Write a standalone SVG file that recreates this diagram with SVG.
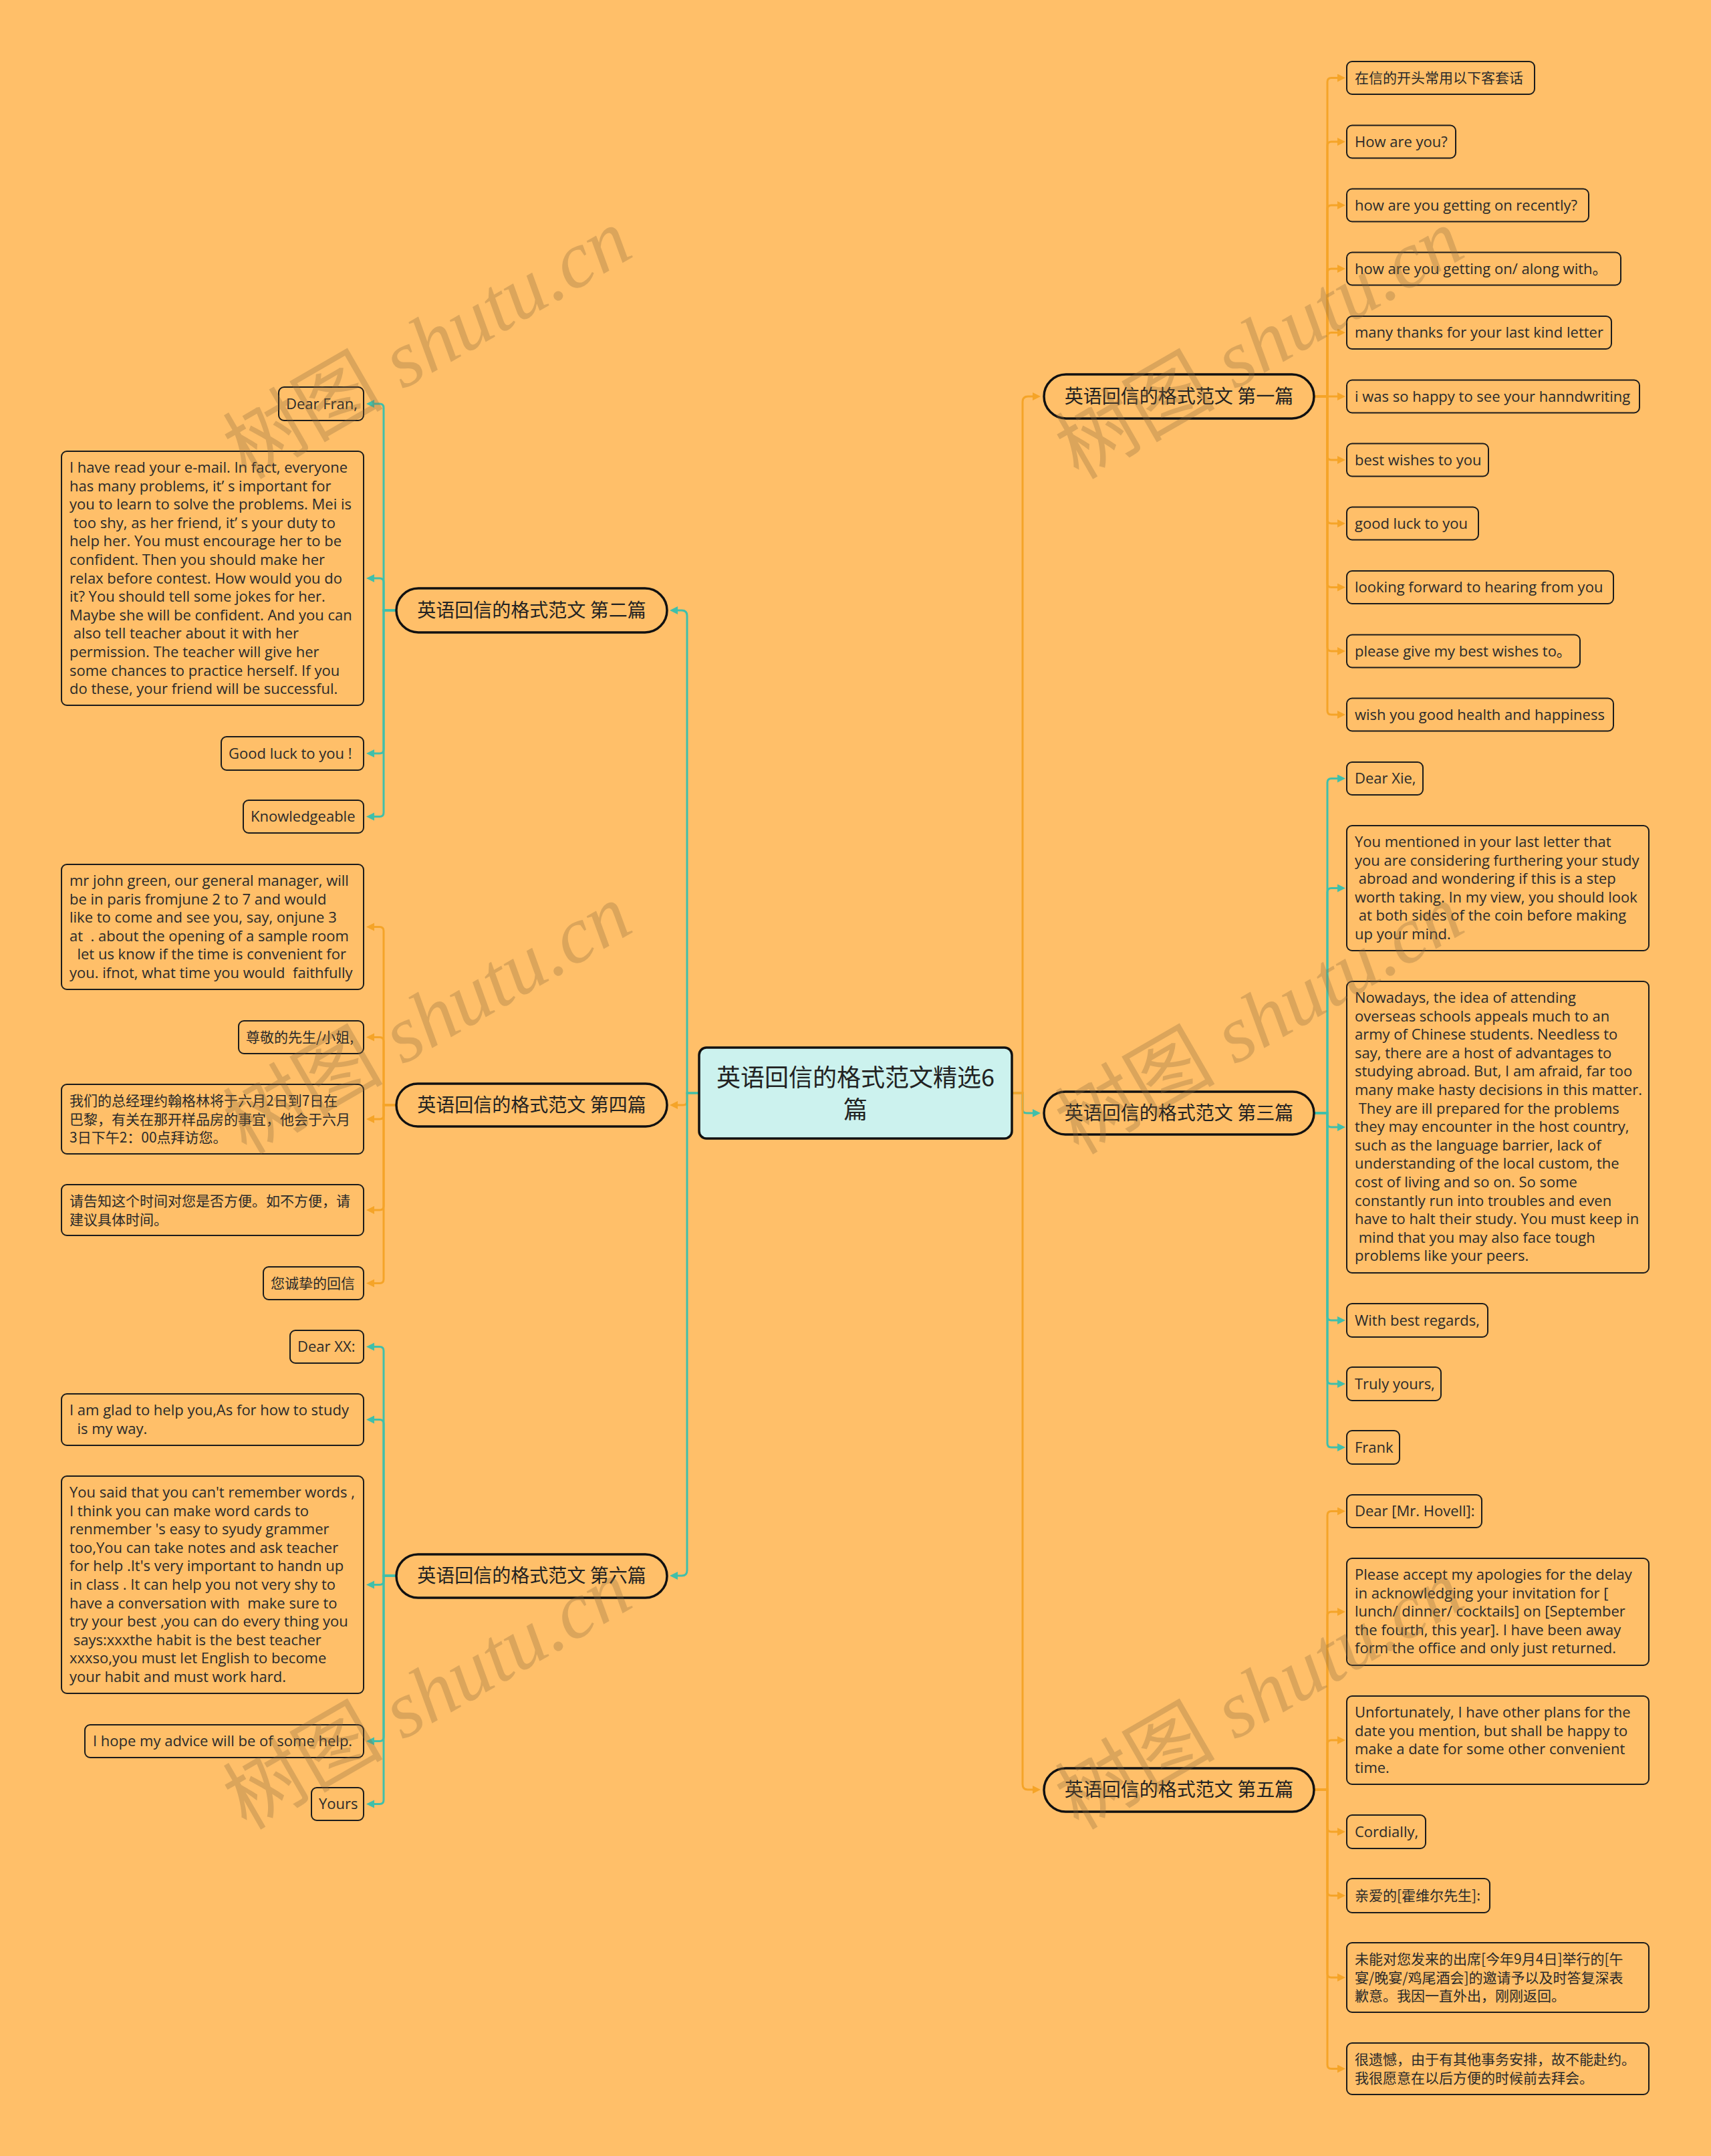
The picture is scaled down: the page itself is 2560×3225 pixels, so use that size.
<svg xmlns="http://www.w3.org/2000/svg" width="2560" height="3225" viewBox="0 0 2560 3225">
<style>
.box{fill:#FFBF69;stroke:#1c1c1c;stroke-width:2}
.pill{fill:#FFBF69;stroke:#111;stroke-width:3.5}
.root{fill:#CCF2EE;stroke:#111;stroke-width:3.5}
.en{font-family:"Open Sans","Noto Sans CJK SC",sans-serif;font-size:22px;fill:#2a2a2a}
.zh{font-family:"Noto Sans CJK SC",sans-serif;font-size:21px;fill:#2a2a2a}
.br{font-family:"Noto Sans CJK SC",sans-serif;font-size:28px;fill:#222;text-anchor:middle}
.rt{font-family:"Noto Sans CJK SC",sans-serif;font-size:36px;fill:#222;text-anchor:middle}
.co{fill:none;stroke:#F5A428;stroke-width:3;marker-end:url(#ao)}
.ct{fill:none;stroke:#40BFAA;stroke-width:3;marker-end:url(#at)}
.wm{font-size:120px;fill:#8B6A3E;opacity:0.3}
.wmz{font-family:"Noto Sans CJK SC",sans-serif}
.wme{font-family:"Liberation Serif",serif;font-style:italic}
</style>
<defs>
<marker id="ao" markerUnits="userSpaceOnUse" markerWidth="14" markerHeight="14" refX="4" refY="6" orient="auto"><path d="M0,0 L12,6 L0,12 z" fill="#F5A428"/></marker>
<marker id="at" markerUnits="userSpaceOnUse" markerWidth="14" markerHeight="14" refX="4" refY="6" orient="auto"><path d="M0,0 L12,6 L0,12 z" fill="#40BFAA"/></marker>
</defs>
<rect x="0" y="0" width="2560" height="3225" fill="#FFBF69"/>

<g id="connectors">
<path class="ct" d="M1514 1635 H1530 V1659 Q1530 1665 1536 1665 H1549"/>
<path class="co" d="M1514 1635 H1530 V601 Q1530 593 1538 593 H1549"/>
<path class="co" d="M1514 1635 H1530 V2669 Q1530 2677 1538 2677 H1549"/>
<path class="co" d="M1046 1635 H1028 V1647 Q1028 1653 1022 1653 H1010"/>
<path class="ct" d="M1046 1635 H1028 V921 Q1028 913 1020 913 H1010"/>
<path class="ct" d="M1046 1635 H1028 V2349 Q1028 2357 1020 2357 H1010"/>
<path class="co" d="M1966 593 H1986 V122.5 Q1986 116.5 1992 116.5 H2005"/>
<path class="co" d="M1966 593 H1986 V218 Q1986 212 1992 212 H2005"/>
<path class="co" d="M1966 593 H1986 V313 Q1986 307 1992 307 H2005"/>
<path class="co" d="M1966 593 H1986 V408 Q1986 402 1992 402 H2005"/>
<path class="co" d="M1966 593 H1986 V503.5 Q1986 497.5 1992 497.5 H2005"/>
<path class="co" d="M1966 593 H2005"/>
<path class="co" d="M1966 593 H1986 V682 Q1986 688 1992 688 H2005"/>
<path class="co" d="M1966 593 H1986 V777 Q1986 783 1992 783 H2005"/>
<path class="co" d="M1966 593 H1986 V872.5 Q1986 878.5 1992 878.5 H2005"/>
<path class="co" d="M1966 593 H1986 V968 Q1986 974 1992 974 H2005"/>
<path class="co" d="M1966 593 H1986 V1063 Q1986 1069 1992 1069 H2005"/>
<path class="ct" d="M1966 1665 H1986 V1170.5 Q1986 1164.5 1992 1164.5 H2005"/>
<path class="ct" d="M1966 1665 H1986 V1334.5 Q1986 1328.5 1992 1328.5 H2005"/>
<path class="ct" d="M1966 1665 H1986 V1680 Q1986 1686 1992 1686 H2005"/>
<path class="ct" d="M1966 1665 H1986 V1969 Q1986 1975 1992 1975 H2005"/>
<path class="ct" d="M1966 1665 H1986 V2064 Q1986 2070 1992 2070 H2005"/>
<path class="ct" d="M1966 1665 H1986 V2159 Q1986 2165 1992 2165 H2005"/>
<path class="co" d="M1966 2677 H1986 V2266.5 Q1986 2260.5 1992 2260.5 H2005"/>
<path class="co" d="M1966 2677 H1986 V2417 Q1986 2411 1992 2411 H2005"/>
<path class="co" d="M1966 2677 H1986 V2609 Q1986 2603 1992 2603 H2005"/>
<path class="co" d="M1966 2677 H1986 V2734 Q1986 2740 1992 2740 H2005"/>
<path class="co" d="M1966 2677 H1986 V2829.5 Q1986 2835.5 1992 2835.5 H2005"/>
<path class="co" d="M1966 2677 H1986 V2952 Q1986 2958 1992 2958 H2005"/>
<path class="co" d="M1966 2677 H1986 V3088.5 Q1986 3094.5 1992 3094.5 H2005"/>
<path class="ct" d="M593 913 H574 V610 Q574 604 568 604 H556"/>
<path class="ct" d="M593 913 H574 V871 Q574 865 568 865 H556"/>
<path class="ct" d="M593 913 H574 V1121 Q574 1127 568 1127 H556"/>
<path class="ct" d="M593 913 H574 V1215.5 Q574 1221.5 568 1221.5 H556"/>
<path class="co" d="M593 1653 H574 V1392.5 Q574 1386.5 568 1386.5 H556"/>
<path class="co" d="M593 1653 H574 V1557.5 Q574 1551.5 568 1551.5 H556"/>
<path class="co" d="M593 1653 H574 V1668 Q574 1674 568 1674 H556"/>
<path class="co" d="M593 1653 H574 V1804 Q574 1810 568 1810 H556"/>
<path class="co" d="M593 1653 H574 V1913.5 Q574 1919.5 568 1919.5 H556"/>
<path class="ct" d="M593 2357 H574 V2020.5 Q574 2014.5 568 2014.5 H556"/>
<path class="ct" d="M593 2357 H574 V2129.5 Q574 2123.5 568 2123.5 H556"/>
<path class="ct" d="M593 2357 H574 V2364.5 Q574 2370.5 568 2370.5 H556"/>
<path class="ct" d="M593 2357 H574 V2598.5 Q574 2604.5 568 2604.5 H556"/>
<path class="ct" d="M593 2357 H574 V2692.5 Q574 2698.5 568 2698.5 H556"/>
</g>

<g id="root">
<rect class="root" x="1046" y="1567" width="468" height="136" rx="11"/>
<text class="rt"><tspan x="1280" y="1625">英语回信的格式范文精选6</tspan><tspan x="1280" y="1673">篇</tspan></text>
</g>

<g id="b1">
<rect class="pill" x="1562" y="560" width="404" height="66" rx="33"/>
<text class="br" x="1764" y="603">英语回信的格式范文 第一篇</text>
</g>
<g id="b3">
<rect class="pill" x="1562" y="1633" width="404" height="64" rx="32"/>
<text class="br" x="1764" y="1675">英语回信的格式范文 第三篇</text>
</g>
<g id="b5">
<rect class="pill" x="1562" y="2645" width="404" height="65" rx="32.5"/>
<text class="br" x="1764" y="2687">英语回信的格式范文 第五篇</text>
</g>
<g id="b2">
<rect class="pill" x="593" y="880" width="405" height="66" rx="33"/>
<text class="br" x="795.5" y="923">英语回信的格式范文 第二篇</text>
</g>
<g id="b4">
<rect class="pill" x="593" y="1621" width="405" height="64" rx="32"/>
<text class="br" x="795.5" y="1663">英语回信的格式范文 第四篇</text>
</g>
<g id="b6">
<rect class="pill" x="593" y="2325" width="405" height="65" rx="32.5"/>
<text class="br" x="795.5" y="2367">英语回信的格式范文 第六篇</text>
</g>

<g id="n1_1"><rect class="box" x="2015" y="92" width="281" height="49" rx="8"/><text class="zh" x="2027" y="124">在信的开头常用以下客套话</text></g>
<g id="n1_2"><rect class="box" x="2015" y="187.5" width="163" height="49" rx="8"/><text class="en" x="2027" y="219.5">How are you?</text></g>
<g id="n1_3"><rect class="box" x="2015" y="282.5" width="362" height="49" rx="8"/><text class="en" x="2027" y="314.5">how are you getting on recently?</text></g>
<g id="n1_4"><rect class="box" x="2015" y="377.5" width="410" height="49" rx="8"/><text class="en" x="2027" y="409.5">how are you getting on/ along with。</text></g>
<g id="n1_5"><rect class="box" x="2015" y="473" width="396" height="49" rx="8"/><text class="en" x="2027" y="505">many thanks for your last kind letter</text></g>
<g id="n1_6"><rect class="box" x="2015" y="568.5" width="438" height="49" rx="8"/><text class="en" x="2027" y="600.5">i was so happy to see your hanndwriting</text></g>
<g id="n1_7"><rect class="box" x="2015" y="663.5" width="212" height="49" rx="8"/><text class="en" x="2027" y="695.5">best wishes to you</text></g>
<g id="n1_8"><rect class="box" x="2015" y="758.5" width="197" height="49" rx="8"/><text class="en" x="2027" y="790.5">good luck to you</text></g>
<g id="n1_9"><rect class="box" x="2015" y="854" width="399" height="49" rx="8"/><text class="en" x="2027" y="886">looking forward to hearing from you</text></g>
<g id="n1_10"><rect class="box" x="2015" y="949.5" width="349" height="49" rx="8"/><text class="en" x="2027" y="981.5">please give my best wishes to。</text></g>
<g id="n1_11"><rect class="box" x="2015" y="1044.5" width="399" height="49" rx="8"/><text class="en" x="2027" y="1076.5">wish you good health and happiness</text></g>

<g id="n3_1"><rect class="box" x="2015" y="1140" width="114" height="49" rx="8"/><text class="en" x="2027" y="1172">Dear Xie,</text></g>
<g id="n3_2"><rect class="box" x="2015" y="1235" width="452" height="187" rx="8"/><text class="en"><tspan x="2027" y="1267">You mentioned in your last letter that</tspan><tspan x="2027" y="1294.6">you are considering furthering your study</tspan><tspan x="2027" y="1322.2">&#160;abroad and wondering if this is a step</tspan><tspan x="2027" y="1349.8">worth taking. In my view, you should look</tspan><tspan x="2027" y="1377.4">&#160;at both sides of the coin before making</tspan><tspan x="2027" y="1405">up your mind.</tspan></text></g>
<g id="n3_3"><rect class="box" x="2015" y="1468" width="452" height="436" rx="8"/><text class="en"><tspan x="2027" y="1500">Nowadays, the idea of attending</tspan><tspan x="2027" y="1527.6">overseas schools appeals much to an</tspan><tspan x="2027" y="1555.2">army of Chinese students. Needless to</tspan><tspan x="2027" y="1582.8">say, there are a host of advantages to</tspan><tspan x="2027" y="1610.4">studying abroad. But, I am afraid, far too</tspan><tspan x="2027" y="1638">many make hasty decisions in this matter.</tspan><tspan x="2027" y="1665.6">&#160;They are ill prepared for the problems</tspan><tspan x="2027" y="1693.2">they may encounter in the host country,</tspan><tspan x="2027" y="1720.8">such as the language barrier, lack of</tspan><tspan x="2027" y="1748.4">understanding of the local custom, the</tspan><tspan x="2027" y="1776">cost of living and so on. So some</tspan><tspan x="2027" y="1803.6">constantly run into troubles and even</tspan><tspan x="2027" y="1831.2">have to halt their study. You must keep in</tspan><tspan x="2027" y="1858.8">&#160;mind that you may also face tough</tspan><tspan x="2027" y="1886.4">problems like your peers.</tspan></text></g>
<g id="n3_4"><rect class="box" x="2015" y="1950" width="211" height="50" rx="8"/><text class="en" x="2027" y="1982.5">With best regards,</text></g>
<g id="n3_5"><rect class="box" x="2015" y="2045" width="141" height="50" rx="8"/><text class="en" x="2027" y="2077.5">Truly yours,</text></g>
<g id="n3_6"><rect class="box" x="2015" y="2140" width="79" height="50" rx="8"/><text class="en" x="2027" y="2172.5">Frank</text></g>

<g id="n5_1"><rect class="box" x="2015" y="2236" width="202" height="49" rx="8"/><text class="en" x="2027" y="2268">Dear [Mr. Hovell]:</text></g>
<g id="n5_2"><rect class="box" x="2015" y="2331" width="452" height="160" rx="8"/><text class="en"><tspan x="2027" y="2363">Please accept my apologies for the delay</tspan><tspan x="2027" y="2390.6">in acknowledging your invitation for [</tspan><tspan x="2027" y="2418.2">lunch/ dinner/ cocktails] on [September</tspan><tspan x="2027" y="2445.8">the fourth, this year]. I have been away</tspan><tspan x="2027" y="2473.4">form the office and only just returned.</tspan></text></g>
<g id="n5_3"><rect class="box" x="2015" y="2537" width="452" height="132" rx="8"/><text class="en"><tspan x="2027" y="2569">Unfortunately, I have other plans for the</tspan><tspan x="2027" y="2596.6">date you mention, but shall be happy to</tspan><tspan x="2027" y="2624.2">make a date for some other convenient</tspan><tspan x="2027" y="2651.8">time.</tspan></text></g>
<g id="n5_4"><rect class="box" x="2015" y="2715" width="118" height="50" rx="8"/><text class="en" x="2027" y="2747.5">Cordially,</text></g>
<g id="n5_5"><rect class="box" x="2015" y="2810" width="214" height="51" rx="8"/><text class="zh" x="2027" y="2843">亲爱的[霍维尔先生]:</text></g>
<g id="n5_6"><rect class="box" x="2015" y="2906" width="452" height="104" rx="8"/><text class="zh"><tspan x="2027" y="2938">未能对您发来的出席[今年9月4日]举行的[午</tspan><tspan x="2027" y="2965.6">宴/晚宴/鸡尾酒会]的邀请予以及时答复深表</tspan><tspan x="2027" y="2993.2">歉意。我因一直外出，刚刚返回。</tspan></text></g>
<g id="n5_7"><rect class="box" x="2015" y="3056" width="452" height="77" rx="8"/><text class="zh"><tspan x="2027" y="3088">很遗憾，由于有其他事务安排，故不能赴约。</tspan><tspan x="2027" y="3115.6">我很愿意在以后方便的时候前去拜会。</tspan></text></g>

<g id="n2_1"><rect class="box" x="417" y="579" width="127" height="50" rx="8"/><text class="en" x="428" y="611.5">Dear Fran,</text></g>
<g id="n2_2"><rect class="box" x="92" y="675" width="452" height="380" rx="8"/><text class="en"><tspan x="104" y="707">I have read your e-mail. In fact, everyone</tspan><tspan x="104" y="734.6">has many problems, it’ s important for</tspan><tspan x="104" y="762.2">you to learn to solve the problems. Mei is</tspan><tspan x="104" y="789.8">&#160;too shy, as her friend, it’ s your duty to</tspan><tspan x="104" y="817.4">help her. You must encourage her to be</tspan><tspan x="104" y="845">confident. Then you should make her</tspan><tspan x="104" y="872.6">relax before contest. How would you do</tspan><tspan x="104" y="900.2">it? You should tell some jokes for her.</tspan><tspan x="104" y="927.8">Maybe she will be confident. And you can</tspan><tspan x="104" y="955.4">&#160;also tell teacher about it with her</tspan><tspan x="104" y="983">permission. The teacher will give her</tspan><tspan x="104" y="1010.6">some chances to practice herself. If you</tspan><tspan x="104" y="1038.2">do these, your friend will be successful.</tspan></text></g>
<g id="n2_3"><rect class="box" x="331" y="1102" width="213" height="50" rx="8"/><text class="en" x="342" y="1134.5">Good luck to you !</text></g>
<g id="n2_4"><rect class="box" x="364" y="1197" width="180" height="49" rx="8"/><text class="en" x="375" y="1229">Knowledgeable</text></g>

<g id="n4_1"><rect class="box" x="92" y="1293" width="452" height="187" rx="8"/><text class="en"><tspan x="104" y="1325">mr john green, our general manager, will</tspan><tspan x="104" y="1352.6">be in paris fromjune 2 to 7 and would</tspan><tspan x="104" y="1380.2">like to come and see you, say, onjune 3</tspan><tspan x="104" y="1407.8">at&#160; . about the opening of a sample room</tspan><tspan x="104" y="1435.4">&#160;&#160;let us know if the time is convenient for</tspan><tspan x="104" y="1463">you. ifnot, what time you would&#160; faithfully</tspan></text></g>
<g id="n4_2"><rect class="box" x="357" y="1527" width="187" height="49" rx="8"/><text class="zh" x="368" y="1559">尊敬的先生/小姐,</text></g>
<g id="n4_3"><rect class="box" x="92" y="1622" width="452" height="104" rx="8"/><text class="zh"><tspan x="104" y="1654">我们的总经理约翰格林将于六月2日到7日在</tspan><tspan x="104" y="1681.6">巴黎，有关在那开样品房的事宜，他会于六月</tspan><tspan x="104" y="1709.2">3日下午2：00点拜访您。</tspan></text></g>
<g id="n4_4"><rect class="box" x="92" y="1772" width="452" height="76" rx="8"/><text class="zh"><tspan x="104" y="1804">请告知这个时间对您是否方便。如不方便，请</tspan><tspan x="104" y="1831.6">建议具体时间。</tspan></text></g>
<g id="n4_5"><rect class="box" x="394" y="1895" width="150" height="49" rx="8"/><text class="zh" x="405" y="1927">您诚挚的回信</text></g>

<g id="n6_1"><rect class="box" x="434" y="1990" width="110" height="49" rx="8"/><text class="en" x="445" y="2022">Dear XX:</text></g>
<g id="n6_2"><rect class="box" x="92" y="2085" width="452" height="77" rx="8"/><text class="en"><tspan x="104" y="2117">I am glad to help you,As for how to study</tspan><tspan x="104" y="2144.6">&#160;&#160;is my way.</tspan></text></g>
<g id="n6_3"><rect class="box" x="92" y="2208" width="452" height="325" rx="8"/><text class="en"><tspan x="104" y="2240">You said that you can't remember words ,</tspan><tspan x="104" y="2267.6">I think you can make word cards to</tspan><tspan x="104" y="2295.2">renmember 's easy to syudy grammer</tspan><tspan x="104" y="2322.8">too,You can take notes and ask teacher</tspan><tspan x="104" y="2350.4">for help .It's very important to handn up</tspan><tspan x="104" y="2378">in class . It can help you not very shy to</tspan><tspan x="104" y="2405.6">have a conversation with&#160; make sure to</tspan><tspan x="104" y="2433.2">try your best ,you can do every thing you</tspan><tspan x="104" y="2460.8">&#160;says:xxxthe habit is the best teacher</tspan><tspan x="104" y="2488.4">xxxso,you must let English to become</tspan><tspan x="104" y="2516">your habit and must work hard.</tspan></text></g>
<g id="n6_4"><rect class="box" x="127" y="2580" width="417" height="49" rx="8"/><text class="en" x="139" y="2612">I hope my advice will be of some help.</text></g>
<g id="n6_5"><rect class="box" x="466" y="2674" width="78" height="49" rx="8"/><text class="en" x="477" y="2706">Yours</text></g>

<g id="watermarks">
<text class="wm" text-anchor="middle" transform="translate(660 550) rotate(-30)"><tspan class="wmz">树图</tspan><tspan class="wme"> shutu.cn</tspan></text>
<text class="wm" text-anchor="middle" transform="translate(1905 550) rotate(-30)"><tspan class="wmz">树图</tspan><tspan class="wme"> shutu.cn</tspan></text>
<text class="wm" text-anchor="middle" transform="translate(660 1560) rotate(-30)"><tspan class="wmz">树图</tspan><tspan class="wme"> shutu.cn</tspan></text>
<text class="wm" text-anchor="middle" transform="translate(1905 1560) rotate(-30)"><tspan class="wmz">树图</tspan><tspan class="wme"> shutu.cn</tspan></text>
<text class="wm" text-anchor="middle" transform="translate(660 2570) rotate(-30)"><tspan class="wmz">树图</tspan><tspan class="wme"> shutu.cn</tspan></text>
<text class="wm" text-anchor="middle" transform="translate(1905 2570) rotate(-30)"><tspan class="wmz">树图</tspan><tspan class="wme"> shutu.cn</tspan></text>
</g>
</svg>
